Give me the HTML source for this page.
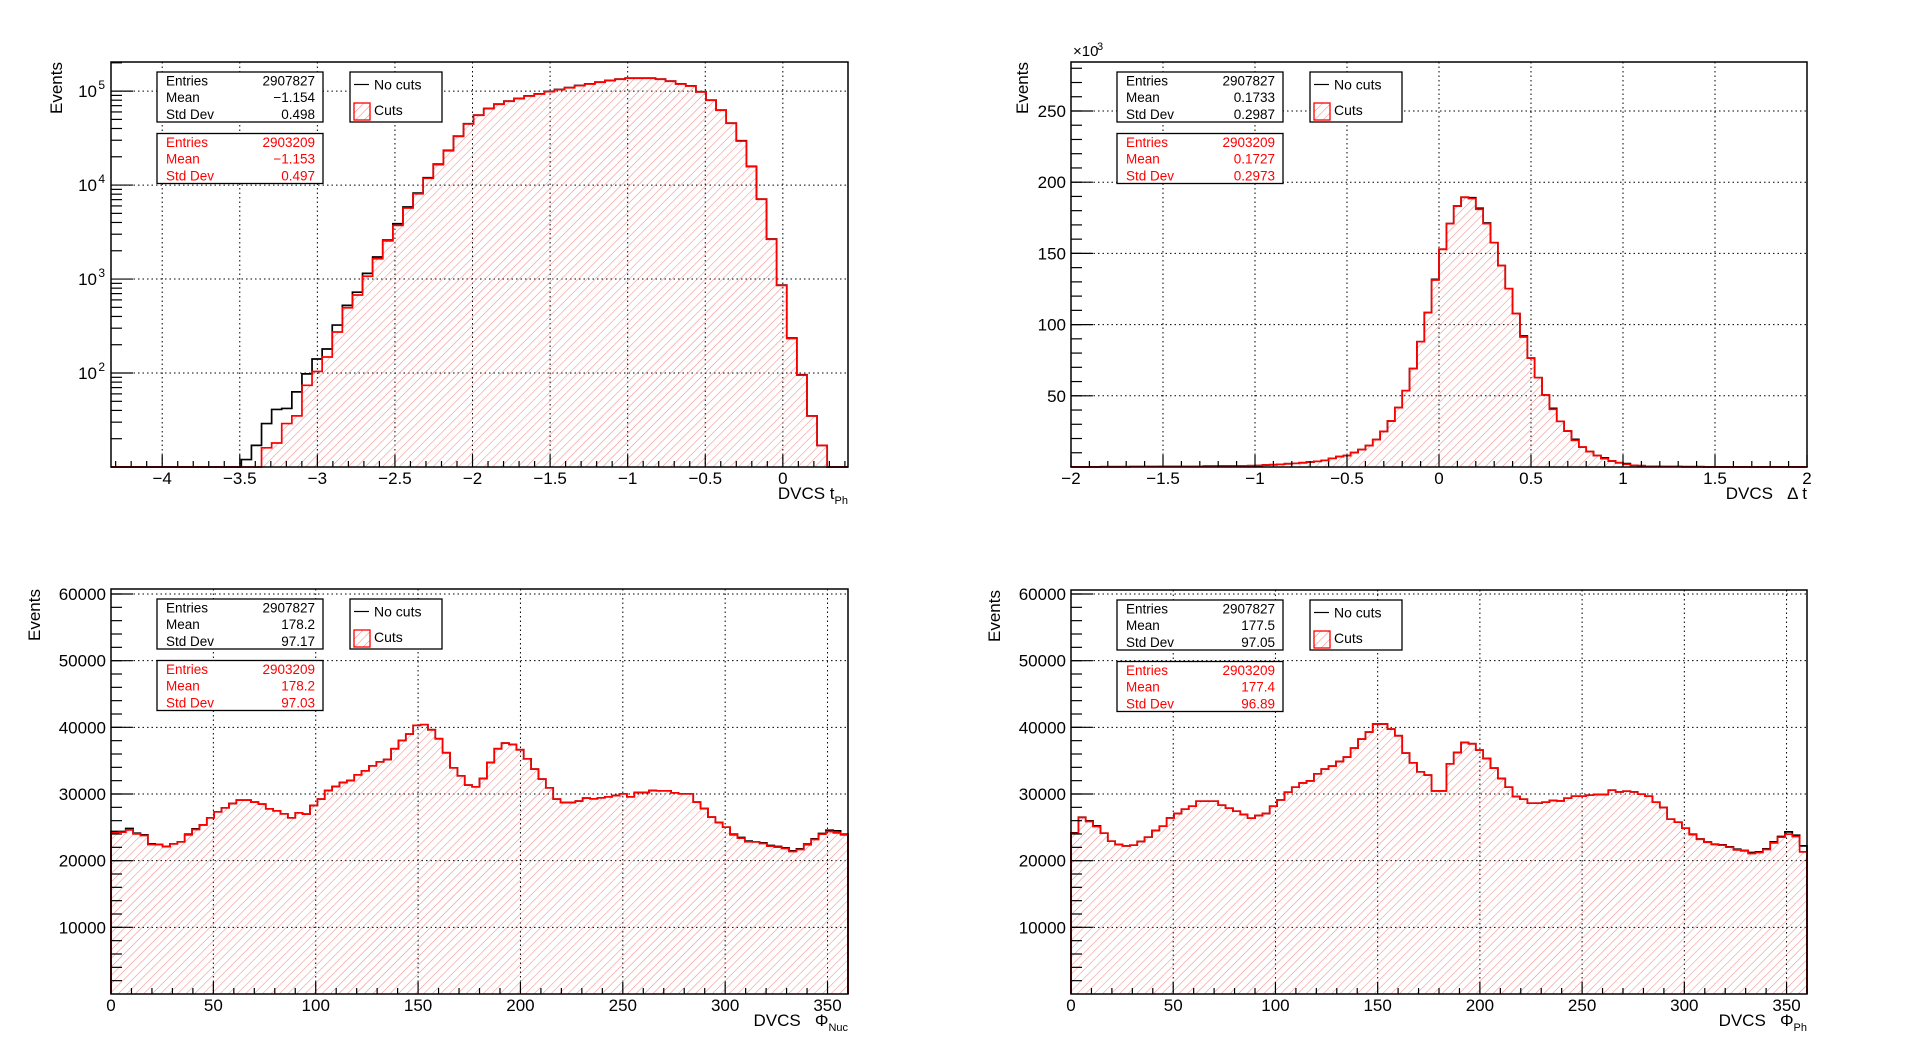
<!DOCTYPE html>
<html><head><meta charset="utf-8"><style>
html,body{margin:0;padding:0;background:#fff;}
svg{display:block;font-family:"Liberation Sans",sans-serif;}
</style></head><body>
<svg id="root" width="1918" height="1055" viewBox="0 0 1918 1055" xmlns="http://www.w3.org/2000/svg">
<defs>
<pattern id="hatch" patternUnits="userSpaceOnUse" width="6" height="6" patternTransform="rotate(45)">
<line x1="0" y1="0" x2="0" y2="6" stroke="#f58a8a" stroke-width="1.1"/>
</pattern>
</defs>
<rect x="0" y="0" width="1918" height="1055" fill="#fff"/>
</svg>
<script>
// ---------- Data: top-left (t_Ph), log scale ----------
const tphBlack = [12,17,29,41,42,63,98,141,180,324,525,725,1150,1715,2600,3880,5840,8220,11970,16700,23400,33200,44900,55600,65300,72800,78300,83400,89100,93600,99000,104000,109000,114700,119600,124700,129700,134300,137500,137500,137500,134300,127700,119600,113800,98400,80200,62800,45700,29600,15800,7100,2670,863,236,96,35,17];
const tphRed = [0,0,16,18,29,35,74,104,148,273,495,676,1070,1645,2550,3720,5690,8070,11800,16500,23200,33000,44700,55300,65000,72500,78000,83000,88700,93200,98600,103500,108500,114200,119100,124200,129200,133800,137000,137000,137000,133800,127200,119100,113300,98000,79800,62500,45500,29400,15700,7060,2650,855,233,95,35,17];
const tphTicks = [-4,-3.5,-3,-2.5,-2,-1.5,-1,-0.5,0];
const tphTickLabels = ["\u22124","\u22123.5","\u22123","\u22122.5","\u22122","\u22121.5","\u22121","\u22120.5","0"];

// ---------- Data: top-right (Delta t), linear (x10^3) ----------
const dtRed = [0.1,0.1,0.1,0.1,0.2,0.2,0.2,0.2,0.3,0.3,0.3,0.3,0.4,0.4,0.4,0.5,0.5,0.5,0.6,0.6,0.7,0.7,0.8,0.8,0.9,
1.0,1.4,1.6,1.9,2.3,2.6,3.0,3.5,4.0,4.7,6.1,7.3,8.0,10.1,12.2,15.0,19.2,25.0,32.3,41.7,53.6,69.1,88.0,108.4,131.3,152.9,170.9,183.3,189.4,188.5,181.0,170.9,157.5,141.4,125.2,107.7,91.3,76.5,62.7,50.6,40.5,32.1,25.3,18.7,14.0,10.8,8.0,5.9,4.2,3.0,1.9,1.2,0.9,0.5,
0.4,0.3,0.3,0.3,0.2,0.2,0.2,0.1,0.1,0.1,0.1,0.1,0.1,0.1,0.1,0.1,0.1,0.1,0.1,0.1,0.1];
const dtBlack = [0.1,0.1,0.1,0.1,0.2,0.2,0.2,0.2,0.3,0.3,0.3,0.3,0.4,0.4,0.4,0.5,0.5,0.5,0.6,0.6,0.7,0.7,0.8,0.8,0.9,
1.0,1.4,1.6,1.9,2.3,2.6,3.0,3.5,4.0,4.7,6.1,7.3,8.0,10.1,12.2,15.0,19.2,25.0,32.3,41.7,53.6,69.1,88.0,108.4,131.8,152.9,170.9,183.3,189.4,189.1,181.7,171.4,157.5,141.4,125.2,107.7,92.0,76.5,62.7,50.6,41.2,32.1,25.3,19.4,14.0,10.8,8.0,6.4,4.2,3.0,2.4,1.2,0.9,0.5,
0.4,0.3,0.3,0.3,0.2,0.2,0.2,0.1,0.1,0.1,0.1,0.1,0.1,0.1,0.1,0.1,0.1,0.1,0.1,0.1,0.1];
const dtTicks = [-2,-1.5,-1,-0.5,0,0.5,1,1.5,2];
const dtTickLabels = ["\u22122","\u22121.5","\u22121","\u22120.5","0","0.5","1","1.5","2"];
const dtYTicks = [50,100,150,200,250];

// ---------- Data: bottom-left (Phi_Nuc) ----------
const phiNucRed = [24170,24270,24620,24020,23770,22430,22430,22130,22530,22830,23870,24670,25370,26430,27330,27930,28580,29080,29080,28780,28480,27780,27480,27030,26430,27180,26980,28280,29230,30530,31130,31730,32030,32880,33480,34230,34830,35180,36790,38040,38990,40300,40400,39640,38290,36190,33930,32730,31330,31080,32330,34730,36790,37640,37440,36640,35280,33730,32230,30930,29230,28730,28730,28930,29380,29280,29430,29580,29780,30030,29580,30230,30230,30530,30480,30480,30180,30030,30030,28780,27830,26530,25730,25020,23870,23370,22830,22830,22580,22180,22030,21830,21380,21680,22380,23170,23970,24370,24170,23870];
const phiNucBlack = [24370,24370,24820,24120,23870,22530,22430,22130,22530,22830,23970,24770,25370,26430,27330,27930,28580,29080,29080,28780,28480,27780,27480,27030,26430,27180,26980,28280,29230,30530,31130,31730,32030,32880,33480,34230,34830,35180,36790,38040,38990,40300,40400,39640,38290,36190,33930,32730,31330,31080,32330,34730,36790,37640,37440,36640,35280,33730,32230,30930,29230,28730,28730,28930,29380,29280,29430,29580,29780,30030,29580,30230,30230,30530,30480,30480,30180,30030,30030,28780,27830,26530,25730,25020,23970,23470,22930,22830,22680,22280,22130,21930,21480,21780,22480,23270,24070,24570,24470,23970];

// ---------- Data: bottom-right (Phi_Ph) ----------
const phiPhRed = [24070,26470,25870,25120,24120,22920,22420,22220,22320,22870,23520,24520,25170,26420,27070,27720,28170,28920,28920,28920,28320,27870,27420,26920,26370,26770,27070,28170,29120,30270,31020,31670,31970,33030,33730,34180,34880,35530,36890,38240,39290,40500,40500,39740,38740,36130,34680,33330,32830,30470,30470,34530,36230,37740,37540,36580,35330,33880,32320,31020,29620,29220,28620,28620,28770,29020,28970,29370,29670,29670,29820,29920,29920,30570,30320,30420,30320,29970,29670,28770,27970,26220,25770,24870,23910,23210,22760,22420,22320,22020,21620,21470,21070,21220,21670,22670,23520,23970,23620,21320];
const phiPhBlack = [24170,26520,25970,25220,24120,22920,22420,22220,22320,22870,23520,24520,25170,26420,27070,27720,28170,28920,28920,28920,28320,27870,27420,26920,26370,26770,27070,28170,29120,30270,31020,31670,31970,33030,33730,34180,34880,35530,36890,38240,39290,40500,40500,39740,38740,36130,34680,33330,32830,30470,30470,34530,36230,37740,37540,36580,35330,33880,32320,31020,29620,29220,28620,28620,28770,29020,28970,29370,29670,29670,29820,29920,29920,30570,30320,30420,30320,29970,29670,28770,27970,26220,25770,24870,23960,23260,22810,22470,22370,22070,21720,21520,21220,21320,21770,22820,23620,24320,23820,22220];
const phiTicks = [0,50,100,150,200,250,300,350];
const phiTickLabels = ["0","50","100","150","200","250","300","350"];
const phiYTicks = [10000,20000,30000,40000,50000,60000];

// ---------- Stats ----------
const statsTph = [["2907827","\u22121.154","0.498"],["2903209","\u22121.153","0.497"]];
const statsDt = [["2907827","0.1733","0.2987"],["2903209","0.1727","0.2973"]];
const statsNuc = [["2907827","178.2","97.17"],["2903209","178.2","97.03"]];
const statsPh = [["2907827","177.5","97.05"],["2903209","177.4","96.89"]];

const NS = "http://www.w3.org/2000/svg";
const svg = document.getElementById('root');
function el(tag, attrs, parent) {
  const e = document.createElementNS(NS, tag);
  for (const k in attrs) e.setAttribute(k, attrs[k]);
  (parent || svg).appendChild(e);
  return e;
}

function makePlot(cfg) {
  const g = el('g', {});
  
  
  const L = cfg.l, T = cfg.t, R = cfg.r, B = cfg.b;
  const xs = v => L + (v - cfg.xmin) / (cfg.xmax - cfg.xmin) * (R - L);
  const ys = cfg.log
    ? v => { const lv = Math.log10(Math.max(v, cfg.ymin)); return B - (lv - Math.log10(cfg.ymin)) / (Math.log10(cfg.ymax) - Math.log10(cfg.ymin)) * (B - T); }
    : v => B - (Math.max(v, 0) - cfg.ymin) / (cfg.ymax - cfg.ymin) * (B - T);

  const grid = el('g', {stroke: '#000', 'stroke-width': 1, 'stroke-dasharray': '1.5,3', fill: 'none'}, g);
  
  
  cfg.xTicks.forEach(v => { const x = xs(v); if (x > L + 1 && x < R - 1) el('line', {x1: x, y1: T, x2: x, y2: B}, grid); });
  cfg.yGrid.forEach(v => { const y = ys(v); if (y > T + 1 && y < B - 1) el('line', {x1: L, y1: y, x2: R, y2: y}, grid); });

  function stepPath(arr, closed) {
    const n = arr.length;
    let d = 'M' + L + ',' + B + ' L' + xs(cfg.xStart) + ',' + B;
    for (let i = 0; i < n; i++) {
      const x0 = xs(cfg.xStart + i * cfg.binW), x1 = xs(cfg.xStart + (i + 1) * cfg.binW);
      const y = arr[i] > 0 ? ys(arr[i]) : B;
      d += ' L' + x0 + ',' + y + ' L' + x1 + ',' + y;
    }
    const xe = xs(cfg.xStart + n * cfg.binW);
    d += ' L' + xe + ',' + B + ' L' + R + ',' + B;
    if (closed) d += ' Z';
    return d;
  }
  const fill = el('path', {d: stepPath(cfg.red, true), fill: 'url(#hatch)', stroke: 'none'}, g);
  
  
  const bl = el('path', {d: stepPath(cfg.black, false), fill: 'none', stroke: '#000', 'stroke-width': 1.7}, g);
  
  
  const rl = el('path', {d: stepPath(cfg.red, false), fill: 'none', stroke: '#ff0000', 'stroke-width': 1.7}, g);
  
  

  const fr = el('rect', {x: L, y: T, width: R - L, height: B - T, fill: 'none', stroke: '#000', 'stroke-width': 1.5}, g);
  
  

  const xt = el('g', {stroke: '#000', 'stroke-width': 1.2}, g);
  
  
  for (let v = cfg.xMinorStart; v <= cfg.xmax + 1e-9; v += cfg.xMinor) {
    const x = xs(v); if (x < L - 0.5 || x > R + 0.5) continue;
    const major = cfg.xTicks.some(t => Math.abs(t - v) < 1e-6);
    el('line', {x1: x, y1: B, x2: x, y2: B - (major ? 12 : 6)}, xt);
  }
  const xl = el('g', {'font-size': 17, 'text-anchor': 'middle', fill: '#000'}, g);
  
  
  cfg.xTicks.forEach((v, i) => { const t = el('text', {x: xs(v), y: B + 17}, xl); t.textContent = cfg.xLabels[i]; });

  const yt = el('g', {stroke: '#000', 'stroke-width': 1.2}, g);
  
  
  cfg.yMinorTicks.forEach(v => { const y = ys(v); if (y >= T && y <= B) el('line', {x1: L, y1: y, x2: L + 11, y2: y}, yt); });
  cfg.yMajorTicks.forEach(v => { const y = ys(v); if (y >= T && y <= B) el('line', {x1: L, y1: y, x2: L + 22, y2: y}, yt); });
  const yl = el('g', {'font-size': 17, 'text-anchor': 'end', fill: '#000'}, g);
  
  
  cfg.yMajorTicks.forEach((v, i) => {
    const y = ys(v);
    if (cfg.log) {
      const t = el('text', {x: L - 14, y: y + 6}, yl);
      t.textContent = '10';
      const s = el('text', {x: L - 6, y: y - 2, 'font-size': 12}, yl);
      s.textContent = cfg.yLabels[i];
    } else {
      const t = el('text', {x: L - 5, y: y + 6}, yl);
      t.textContent = cfg.yLabels[i];
    }
  });

  const ytl = el('text', {x: 0, y: 0, 'font-size': 17, 'text-anchor': 'end', transform: 'translate(' + cfg.yTitleX + ',' + T + ') rotate(-90)'}, g);
  
  
  ytl.textContent = 'Events';
  const xtl = el('text', {x: R, y: B + 32, 'font-size': 17, 'text-anchor': 'end'}, g);
  
  
  const m = el('tspan', {}, xtl); m.textContent = cfg.xTitle;
  if (cfg.xSub) {
    const s = el('tspan', {'font-size': 11, dy: 5}, xtl); s.textContent = cfg.xSub;
  }

  const sx = L + 46, sw = 166;
  const rowsN = ['Entries', 'Mean', 'Std Dev'];
  [[T + 10, '#000', 0], [T + 71.5, '#ff0000', 1]].forEach(([by, col, k]) => {
    const sb = el('g', {}, g);
    
    
    el('rect', {x: sx, y: by, width: sw, height: 50, fill: '#fff', stroke: '#000', 'stroke-width': 1.3}, sb);
    rowsN.forEach((nm, r) => {
      const ty = by + 13.5 + r * 16.7;
      const a = el('text', {x: sx + 9, y: ty, 'font-size': 13.5, fill: col}, sb); a.textContent = nm;
      const b = el('text', {x: sx + sw - 8, y: ty, 'font-size': 13.5, fill: col, 'text-anchor': 'end'}, sb); b.textContent = cfg.stats[k][r];
    });
  });

  const lg = el('g', {}, g);
  
  
  const lx = L + 239;
  el('rect', {x: lx, y: T + 10, width: 92, height: 50, fill: '#fff', stroke: '#000', 'stroke-width': 1.3}, lg);
  el('line', {x1: lx + 4, y1: T + 22.5, x2: lx + 19, y2: T + 22.5, stroke: '#000', 'stroke-width': 1.2}, lg);
  const l1 = el('text', {x: lx + 24, y: T + 27.5, 'font-size': 14}, lg); l1.textContent = 'No cuts';
  el('rect', {x: lx + 4, y: T + 41, width: 16, height: 17, fill: 'url(#hatch)', stroke: '#ff0000', 'stroke-width': 1.3}, lg);
  const l2 = el('text', {x: lx + 24, y: T + 53, 'font-size': 14}, lg); l2.textContent = 'Cuts';

  if (cfg.expLabel) {
    const ex = el('text', {x: L + 2, y: T - 6, 'font-size': 15}, g);
    
    
    ex.textContent = '\u00d710';
    const es = el('text', {x: L + 26, y: T - 12, 'font-size': 11}, g); es.textContent = '3';
  }
}

function logMinors(lo, hi) { const a = []; for (let e = lo; e < hi; e++) for (let m = 2; m <= 9; m++) a.push(m * Math.pow(10, e)); return a; }
function range(a, b, s) { const r = []; for (let v = a; v <= b + 1e-9; v += s) r.push(v); return r; }

makePlot({name: 'plot-t-ph', l: 111, t: 62, r: 848, b: 467, xmin: -4.33, xmax: 0.42, log: true, ymin: 10, ymax: 204000,
  xStart: -3.49, binW: 0.0651, black: tphBlack, red: tphRed,
  xTicks: tphTicks, xLabels: tphTickLabels, xMinorStart: -4.3, xMinor: 0.1,
  yGrid: [100, 1000, 10000, 100000], yMajorTicks: [100, 1000, 10000, 100000], yLabels: ['2', '3', '4', '5'],
  yMinorTicks: logMinors(1, 6), yTitleX: 62, xTitle: 'DVCS t', xSub: 'Ph', stats: statsTph});

makePlot({name: 'plot-delta-t', l: 1071, t: 62, r: 1807, b: 467, xmin: -2, xmax: 2, log: false, ymin: 0, ymax: 284.4,
  xStart: -2, binW: 0.04, black: dtBlack, red: dtRed,
  xTicks: dtTicks, xLabels: dtTickLabels, xMinorStart: -2, xMinor: 0.1,
  yGrid: dtYTicks, yMajorTicks: dtYTicks, yLabels: dtYTicks.map(String),
  yMinorTicks: range(10, 280, 10), yTitleX: 1028, xTitle: 'DVCS \u00a0\u00a0\u0394 t', xSub: null, stats: statsDt, expLabel: true});

makePlot({name: 'plot-phi-nuc', l: 111, t: 589, r: 848, b: 994, xmin: 0, xmax: 360, log: false, ymin: 0, ymax: 60750,
  xStart: 0, binW: 3.6, black: phiNucBlack, red: phiNucRed,
  xTicks: phiTicks, xLabels: phiTickLabels, xMinorStart: 0, xMinor: 10,
  yGrid: phiYTicks, yMajorTicks: phiYTicks, yLabels: phiYTicks.map(String),
  yMinorTicks: range(2000, 60000, 2000), yTitleX: 40, xTitle: 'DVCS \u00a0\u00a0\u03a6', xSub: 'Nuc', stats: statsNuc});

makePlot({name: 'plot-phi-ph', l: 1071, t: 590, r: 1807, b: 994, xmin: 0, xmax: 360, log: false, ymin: 0, ymax: 60600,
  xStart: 0, binW: 3.6, black: phiPhBlack, red: phiPhRed,
  xTicks: phiTicks, xLabels: phiTickLabels, xMinorStart: 0, xMinor: 10,
  yGrid: phiYTicks, yMajorTicks: phiYTicks, yLabels: phiYTicks.map(String),
  yMinorTicks: range(2000, 60000, 2000), yTitleX: 1000, xTitle: 'DVCS \u00a0\u00a0\u03a6', xSub: 'Ph', stats: statsPh});
</script>
</body></html>
